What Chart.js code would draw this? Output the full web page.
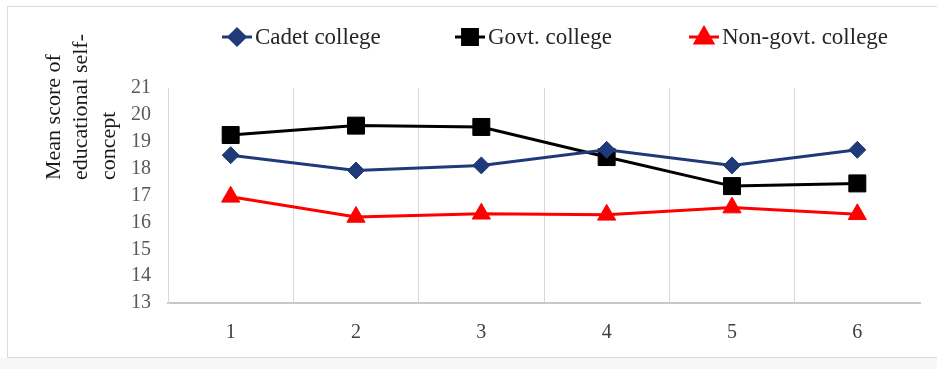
<!DOCTYPE html>
<html>
<head>
<meta charset="utf-8">
<script src="https://cdn.jsdelivr.net/npm/chart.js@4"></script>
<style>
  html, body { margin: 0; padding: 0; background: #fff; }
  #wrap { position: relative; width: 937px; height: 369px; }
</style>
</head>
<body>
<div id="wrap"><canvas id="chart" width="937" height="369"></canvas></div>
<script>
// values
const categories = ["1", "2", "3", "4", "5", "6"];
const cadetCollege = [18.5, 17.93, 18.12, 18.7, 18.12, 18.7];
const govtCollege = [19.25, 19.6, 19.55, 18.43, 17.35, 17.45];
const nonGovtCollege = [16.95, 16.2, 16.32, 16.28, 16.55, 16.3];
const seriesNames = ["Cadet college", "Govt. college", "Non-govt. college"];
const yTitleLines = ["Mean score of", "educational self-", "concept"];

const FONT = "'Liberation Serif', 'Times New Roman', serif";

function makeSet(label, data, color, style, radius) {
    return {
        label: label,
        data: data,
        borderColor: color,
        backgroundColor: color,
        borderWidth: 3,
        pointStyle: style,
        pointRadius: radius,
        pointHoverRadius: radius,
        pointBackgroundColor: color,
        pointBorderColor: color,
        pointBorderWidth: 1,
        tension: 0
    };
}

// frame, legend with line stubs and the rotated y title
const decorations = {
    id: "decorations",
    beforeDraw(chart) {
        const ctx = chart.ctx;
        ctx.save();
        ctx.fillStyle = "#f7f7f7";
        ctx.fillRect(0, 358, 937, 11);
        ctx.strokeStyle = "#dcdcdc";
        ctx.lineWidth = 1;
        ctx.strokeRect(7.5, 6.5, 940, 351);
        ctx.restore();
    },
    afterDraw(chart) {
        const ctx = chart.ctx;
        ctx.save();
        // legend
        const boxes = [222, 455, 689];
        const y = 37;
        chart.data.datasets.forEach((ds, i) => {
            const x0 = boxes[i];
            ctx.strokeStyle = ds.borderColor;
            ctx.lineWidth = 3;
            ctx.beginPath();
            ctx.moveTo(x0, y);
            ctx.lineTo(x0 + 30, y);
            ctx.stroke();
            const r = i === 0 ? 8 : (i === 1 ? 10.5 : 10);
            ctx.fillStyle = ds.backgroundColor;
            Chart.helpers.drawPoint(ctx, {pointStyle: ds.pointStyle, radius: r, borderWidth: 1, rotation: 0}, x0 + 15, i === 2 ? y + 1 : y);
            ctx.fill();
            ctx.fillStyle = "#262626";
            ctx.font = "23px " + FONT;
            ctx.textAlign = "left";
            ctx.textBaseline = "middle";
            ctx.fillText(ds.label, x0 + 33, y + 1);
        });
        // y title
        ctx.fillStyle = "#1a1a1a";
        ctx.font = "22px " + FONT;
        ctx.textAlign = "left";
        ctx.textBaseline = "middle";
        const xs = [54, 81.5, 109];
        yTitleLines.forEach((line, i) => {
            ctx.save();
            ctx.translate(xs[i], 180);
            ctx.rotate(-Math.PI / 2);
            ctx.fillText(line, 0, 0);
            ctx.restore();
        });
        ctx.restore();
    }
};

const chart = new Chart(document.getElementById("chart"), {
    type: "line",
    data: {
        labels: categories,
        datasets: [
            makeSet(seriesNames[0], cadetCollege, "#1f3a78", "rectRot", 8.5),
            makeSet(seriesNames[1], govtCollege, "#000000", "rect", 12),
            makeSet(seriesNames[2], nonGovtCollege, "#ff0000", "triangle", 10.5)
        ]
    },
    options: {
        responsive: false,
        animation: false,
        layout: { padding: { top: 88, right: 17, left: 0, bottom: 0 } },
        plugins: {
            legend: { display: false },
            tooltip: { enabled: false }
        },
        scales: {
            x: {
                offset: true,
                grid: {
                    display: true,
                    offset: true,
                    drawTicks: false,
                    color: (c) => c.tick ? "#d9d9d9" : "rgba(0,0,0,0)",
                    lineWidth: 1
                },
                border: { display: true, color: "#c8c8c8", width: 2 },
                ticks: {
                    padding: 18,
                    color: "#404040",
                    font: { family: FONT, size: 20 }
                },
                afterFit(scale) { scale.height = 66; }
            },
            y: {
                min: 13,
                max: 21,
                grid: { display: false, drawTicks: false },
                border: { display: true, color: "#d9d9d9", width: 1 },
                ticks: {
                    stepSize: 1,
                    autoSkip: false,
                    padding: 17,
                    color: "#595959",
                    font: { family: FONT, size: 20 }
                },
                afterFit(scale) { scale.width = 168; }
            }
        }
    },
    plugins: [decorations]
});
</script>
</body>
</html>
